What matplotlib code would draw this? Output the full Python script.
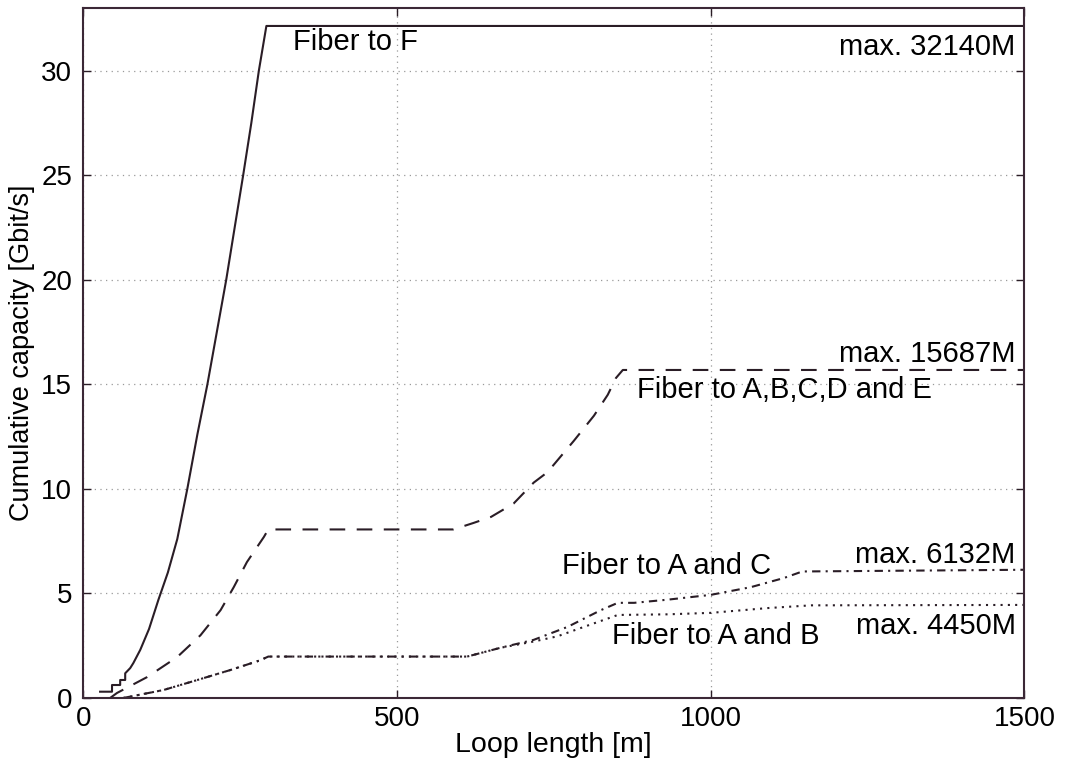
import numpy as np
import matplotlib
matplotlib.use("Agg")
import matplotlib.pyplot as plt

plt.rcParams["font.family"] = ["Liberation Sans", "DejaVu Sans"]

# Cumulative capacity vs. loop length, one curve per fiber scenario
# (loop length in m, capacity in Gbit/s)
len_f = [27, 46, 46, 59, 59, 67, 67, 75, 80, 91, 105, 120, 135, 150, 166,
         182, 198, 213, 228, 242, 255, 268, 280, 292, 1500]
cap_f = [0.30, 0.30, 0.62, 0.62, 0.86, 0.86, 1.18, 1.43, 1.67, 2.3, 3.3, 4.7,
         6.0, 7.6, 10.0, 12.6, 15.0, 17.5, 20.0, 22.6, 25.0, 27.5, 30.0,
         32.14, 32.14]

len_abcde = [43, 54, 102, 150, 187, 219, 240, 261, 288, 295, 590, 622, 650,
             686, 718, 740, 782, 814, 836, 849, 860, 1500]
cap_abcde = [0.0, 0.24, 1.0, 1.96, 3.0, 4.2, 5.3, 6.5, 7.7, 8.06, 8.06, 8.37,
             8.66, 9.3, 10.3, 10.8, 12.3, 13.5, 14.5, 15.3, 15.687, 15.687]

len_ac = [64, 128, 182, 235, 282, 295, 612, 665, 718, 772, 825, 852, 878,
          931, 1000, 1064, 1117, 1146, 1500]
cap_ac = [0.0, 0.38, 0.86, 1.34, 1.8, 1.98, 1.98, 2.4, 2.78, 3.4, 4.2, 4.55,
          4.55, 4.7, 4.93, 5.3, 5.74, 6.05, 6.132]

len_ab = [64, 128, 182, 235, 282, 295, 612, 665, 718, 756, 798, 836, 852,
          931, 1000, 1091, 1160, 1500]
cap_ab = [0.0, 0.38, 0.86, 1.34, 1.8, 1.98, 1.98, 2.4, 2.7, 2.95, 3.4, 3.8,
          3.97, 4.0, 4.07, 4.3, 4.43, 4.45]

LINE = "#2a1d26"

fig = plt.figure(figsize=(10.66, 7.67), dpi=100)
ax = fig.add_axes([0.078, 0.090, 0.883, 0.8996])

lw = 1.5
ax.plot(len_f, cap_f, color=LINE, lw=lw, linestyle="-")
ax.plot(len_abcde, cap_abcde, color=LINE, lw=lw, linestyle=(0, (7.5, 5.5)))
ax.plot(len_ab, cap_ab, color=LINE, lw=lw, linestyle=(0, (1, 2.5)))
ax.plot(len_ac, cap_ac, color=LINE, lw=lw, linestyle=(0, (4, 2.5, 1, 2.5)))

ax.set_xlim(0, 1500)
ax.set_ylim(0, 33)
ax.set_xticks([0, 500, 1000, 1500])
ax.set_yticks([0, 5, 10, 15, 20, 25, 30])
ax.grid(True, color="#9a9a9a", linestyle=(0, (1, 3.5)), linewidth=0.9)
ax.tick_params(direction="in", length=6, width=1, top=True, right=True,
               labelsize=20, colors=LINE, labelcolor="black")
ax.tick_params(axis="x", pad=6)
ax.tick_params(axis="y", pad=8)
for sp in ax.spines.values():
    sp.set_color("#3b2836")
    sp.set_linewidth(1.5)

ax.set_xlabel("Loop length [m]", fontsize=20.5, labelpad=0)
ax.set_ylabel("Cumulative capacity [Gbit/s]", fontsize=19.5, labelpad=4)

fs = 21
ax.text(335, 31.35, "Fiber to F", fontsize=fs, va="center", ha="left")
ax.text(1485, 31.15, "max. 32140M", fontsize=fs, va="center", ha="right")
ax.text(1485, 16.45, "max. 15687M", fontsize=fs, va="center", ha="right")
ax.text(883, 14.75, "Fiber to A,B,C,D and E", fontsize=fs, va="center", ha="left")
ax.text(763, 6.3, "Fiber to A and C", fontsize=fs, va="center", ha="left")
ax.text(1485, 6.85, "max. 6132M", fontsize=fs, va="center", ha="right")
ax.text(843, 2.95, "Fiber to A and B", fontsize=fs, va="center", ha="left")
ax.text(1487, 3.45, "max. 4450M", fontsize=fs, va="center", ha="right")

fig.savefig("out.png", dpi=100)
